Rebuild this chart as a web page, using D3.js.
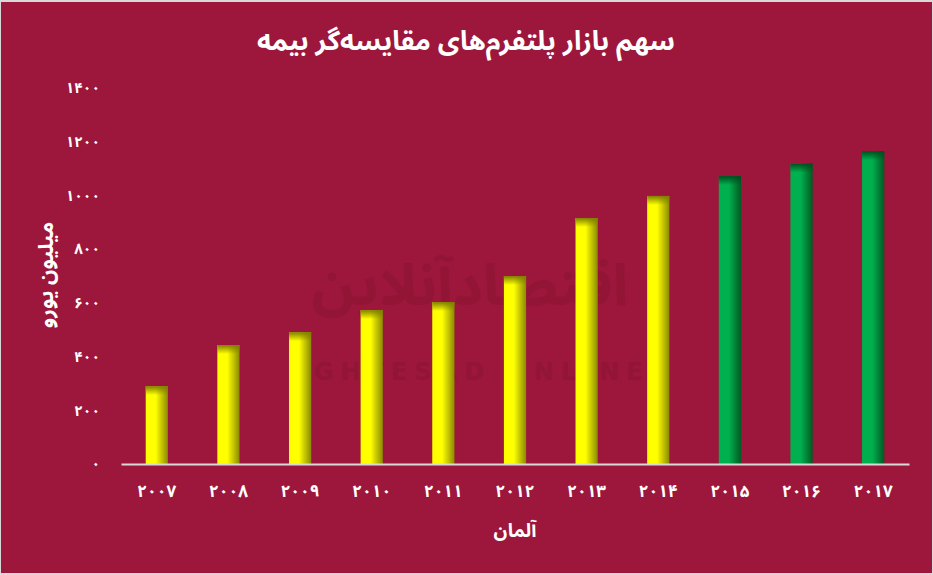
<!DOCTYPE html>
<html><head><meta charset="utf-8">
<script src="https://cdn.jsdelivr.net/npm/d3@7"></script>
<style>html,body{margin:0;padding:0;background:#fff;}svg{display:block;}</style>
</head><body><div id="chart"></div>
<script>
const years = ["2007","2008","2009","2010","2011","2012","2013","2014","2015","2016","2017"];
const values = [290, 443, 491, 573, 603, 700, 916, 998, 1072, 1119, 1165];
const seriesKind = ["y","y","y","y","y","y","y","y","g","g","g"];
const yTicks = [0, 200, 400, 600, 800, 1000, 1200, 1400];
const title = "سهم بازار پلتفرم‌های مقایسه‌گر بیمه";
const yTitle = "میلیون یورو";
const xTitle = "آلمان";

const fa = s => String(s).replace(/\d/g, d => "۰۱۲۳۴۵۶۷۸۹"[d]);
const W = 933, H = 575;
const font = "'Noto Sans Arabic','DejaVu Sans',sans-serif";
const svg = d3.select("#chart").append("svg").attr("width", W).attr("height", H);

svg.append("rect").attr("x",0).attr("y",0).attr("width",W).attr("height",H).attr("fill","#d9d9d9");
svg.append("rect").attr("x",1).attr("y",2).attr("width",W-2).attr("height",H-4).attr("fill","#9c173b");

const defs = svg.append("defs");
function hgrad(id, light, dark){
  const g = defs.append("linearGradient").attr("id",id).attr("x1","0").attr("x2","1").attr("y1","0").attr("y2","0");
  g.append("stop").attr("offset","0").attr("stop-color",light);
  g.append("stop").attr("offset","0.45").attr("stop-color",light);
  g.append("stop").attr("offset","1").attr("stop-color",dark);
}
hgrad("gy","#ffff00","#8a8a00");
hgrad("gg","#00b04f","#005a22");
function vgrad(id, dark){
  const g = defs.append("linearGradient").attr("id",id).attr("x1","0").attr("x2","0").attr("y1","0").attr("y2","1");
  g.append("stop").attr("offset","0").attr("stop-color",dark).attr("stop-opacity",1);
  g.append("stop").attr("offset","1").attr("stop-color",dark).attr("stop-opacity",0);
}
vgrad("ty","#7f7f00");
vgrad("tg","#004d1d");

// watermark
svg.append("text").attr("x",470).attr("y",305).attr("text-anchor","middle")
  .attr("font-family",font).attr("font-weight","bold").attr("font-size",58)
  .attr("fill","#8a1533").attr("opacity",0.5).text("اقتصادآنلاین");
svg.append("text").attr("x",470).attr("y",380).attr("text-anchor","middle")
  .attr("font-family","'DejaVu Sans',sans-serif").attr("font-weight","bold").attr("font-size",24)
  .attr("letter-spacing",7).attr("fill","#8a1533").attr("opacity",0.5).text("EGHTESAD ONLINE");

const x = d3.scaleBand().domain(years).range([121, 909]).paddingInner(0.69).paddingOuter(0.345);
const y = d3.scaleLinear().domain([0, 1400]).range([464, 88]);

const bars = svg.append("g");
const data = years.map((yr,i)=>({yr, v: values[i], k: seriesKind[i]}));
bars.selectAll("rect.bar").data(data).join("rect").attr("class","bar")
  .attr("x", d=>x(d.yr)).attr("width", x.bandwidth())
  .attr("y", d=>y(d.v)).attr("height", d=>y(0)-y(d.v))
  .attr("fill", d=> d.k==="y" ? "url(#gy)" : "url(#gg)");
bars.selectAll("rect.top").data(data).join("rect").attr("class","top")
  .attr("x", d=>x(d.yr)).attr("width", x.bandwidth())
  .attr("y", d=>y(d.v)).attr("height", 9)
  .attr("fill", d=> d.k==="y" ? "url(#ty)" : "url(#tg)");

// x axis
const xa = svg.append("g").attr("transform","translate(0,464)")
  .call(d3.axisBottom(x).tickSize(0).tickPadding(21).tickFormat(fa));
xa.select(".domain").attr("stroke","#d9d9d9").attr("stroke-width",2);
xa.selectAll("text").attr("fill","#fff").attr("font-family",font).attr("font-weight","bold").attr("font-size",17);

// y axis
const ya = svg.append("g").attr("transform","translate(100,0)")
  .call(d3.axisLeft(y).tickValues(yTicks).tickSize(0).tickPadding(0).tickFormat(fa));
ya.select(".domain").remove();
ya.selectAll("text").attr("fill","#fff").attr("font-family",font).attr("font-weight","bold").attr("font-size",15);

svg.append("text").attr("x",466).attr("y",50).attr("text-anchor","middle")
  .attr("font-family",font).attr("font-weight","bold").attr("font-size",27).attr("fill","#fff").text(title);
svg.append("text").attr("transform","translate(53,275) rotate(-90)").attr("text-anchor","middle")
  .attr("font-family",font).attr("font-weight","bold").attr("font-size",21).attr("fill","#fff").text(yTitle);
svg.append("text").attr("x",515).attr("y",537).attr("text-anchor","middle")
  .attr("font-family",font).attr("font-weight","bold").attr("font-size",19).attr("fill","#fff").text(xTitle);
</script></body></html>
